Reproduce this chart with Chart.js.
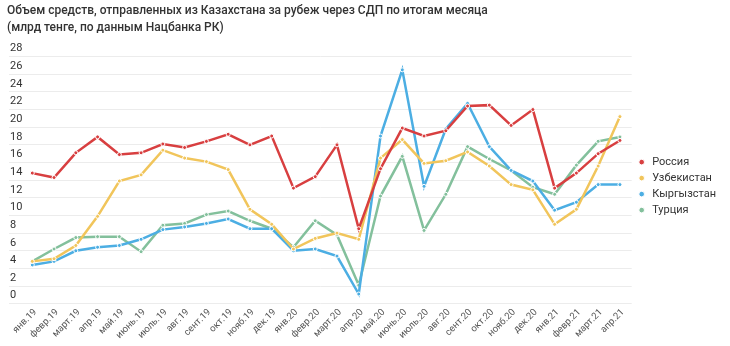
<!DOCTYPE html>
<html>
<head>
<meta charset="utf-8">
<script src="https://cdn.jsdelivr.net/npm/chart.js@4"></script>
<style>
  html, body { margin: 0; padding: 0; background: #fff; }
  #wrap { width: 730px; height: 346px; }
</style>
</head>
<body>
<div id="wrap"><canvas id="c"></canvas></div>
<script>
const months = ['янв.19','февр.19','март.19','апр.19','май.19','июнь.19','июль.19','авг.19','сент.19','окт.19','нояб.19','дек.19',
  'янв.20','февр.20','март.20','апр.20','май.20','июнь.20','июль.20','авг.20','сент.20','окт.20','нояб.20','дек.20',
  'янв.21','февр.21','март.21','апр.21']

const russia = [14.8, 14.3, 17.1, 18.9, 16.9, 17.1, 18.1, 17.7, 18.4, 19.2, 18.0, 19.0,
  13.1, 14.4, 18.0, 8.5, 15.3, 19.9, 19.0, 19.6, 22.4, 22.5, 20.2, 22.0,
  13.1, 14.8, 17.0, 18.5]
const uzbekistan = [4.8, 5.1, 6.6, 9.9, 13.9, 14.6, 17.4, 16.5, 16.1, 15.2, 10.7, 9.0,
  6.2, 7.4, 8.0, 7.3, 16.5, 18.6, 15.9, 16.2, 17.2, 15.6, 13.5, 12.9,
  9.0, 10.7, 15.6, 21.2]
const kyrgyzstan = [4.4, 4.8, 6.0, 6.4, 6.6, 7.3, 8.4, 8.7, 9.1, 9.6, 8.5, 8.5,
  6.0, 6.2, 5.4, 1.1, 19.0, 26.5, 13.3, 19.8, 22.7, 17.8, 15.1, 13.9,
  10.6, 11.5, 13.5, 13.5]
const turkey = [4.8, 6.2, 7.5, 7.6, 7.6, 5.9, 8.9, 9.1, 10.1, 10.5, 9.4, 8.5,
  6.4, 9.4, 7.8, 2.1, 12.2, 16.7, 8.3, 12.4, 17.8, 16.4, 15.1, 13.2,
  12.4, 15.7, 18.4, 18.9]

const seriesNames = ['Россия', 'Узбекистан', 'Кыргызстан', 'Турция']
const seriesColors = ['#d83f40', '#f1c55b', '#4caee3', '#83c09c']
const seriesValues = [russia, uzbekistan, kyrgyzstan, turkey]

const yTicks = [0, 2, 4, 6, 8, 10, 12, 14, 16, 18, 20, 22, 24, 26, 28]

Chart.defaults.font.family = 'Roboto, "Noto Sans", sans-serif'

const datasets = seriesNames.map((name, k) => ({
  label: name,
  data: seriesValues[k].map((v, i) => ({ x: i, y: v })),
  borderColor: seriesColors[k],
  backgroundColor: seriesColors[k],
  borderWidth: 2.5,
  pointRadius: 2,
  pointBorderWidth: 1,
  pointBorderColor: '#ffffff',
  pointBackgroundColor: seriesColors[k],
  tension: 0,
}))

new Chart(document.getElementById('c'), {
  type: 'line',
  data: { datasets },
  options: {
    responsive: true,
    maintainAspectRatio: false,
    animation: false,
    layout: { padding: { left: 7, right: 4, bottom: 2 } },
    scales: {
      x: {
        type: 'linear',
        min: -1.07,
        max: 27.54,
        afterBuildTicks: (axis) => { axis.ticks = months.map((m, i) => ({ value: i })) },
        grid: { display: false, drawTicks: false },
        border: { display: false },
        ticks: {
          autoSkip: false,
          minRotation: 45,
          maxRotation: 45,
          padding: 3,
          labelOffset: 3,
          color: '#555',
          font: { size: 9.5 },
          callback: (v) => months[v],
        },
      },
      y: {
        min: 0,
        max: 28,
        afterBuildTicks: (axis) => { axis.ticks = yTicks.map(v => ({ value: v })) },
        border: { display: false },
        grid: { color: '#ececec', lineWidth: 1, drawTicks: false },
        ticks: {
          autoSkip: false,
          mirror: true,
          padding: 1,
          labelOffset: -8,
          color: '#333',
          font: { size: 11 },
        },
      },
    },
    plugins: {
      title: {
        display: true,
        align: 'start',
        text: ['Объем средств, отправленных из Казахстана за рубеж через СДП по итогам месяца',
               '(млрд тенге, по данным Нацбанка РК)'],
        color: '#333',
        font: { size: 12, weight: '500', lineHeight: 1.4 },
        padding: { top: 3, bottom: 20 },
      },
      legend: {
        position: 'right',
        title: { display: true, text: ' ', padding: { top: 5, bottom: 10 }, font: { size: 11 } },
        labels: {
          usePointStyle: true,
          pointStyle: 'circle',
          boxWidth: 10,
          boxHeight: 4,
          padding: 5,
          color: '#333',
          font: { size: 11 },
        },
      },
      tooltip: { enabled: false },
    },
  },
})
</script>
</body>
</html>
